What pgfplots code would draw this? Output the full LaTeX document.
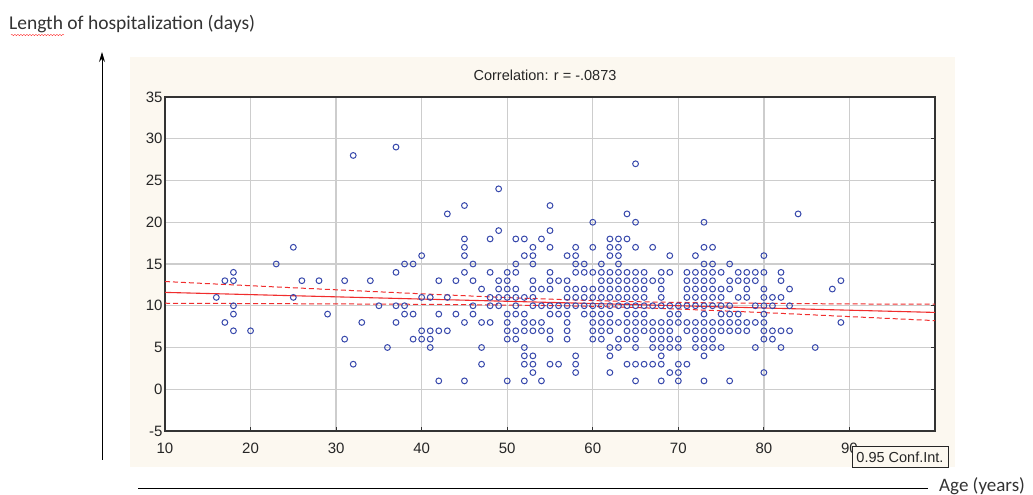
\documentclass[border=0pt]{standalone}
\usepackage{fontspec}
\setmainfont{Carlito}
\newfontfamily\arial{Liberation Sans}
\usepackage{pgfplots}
\pgfplotsset{compat=1.18}
\usetikzlibrary{arrows.meta,decorations.pathmorphing}
\definecolor{panelbg}{RGB}{252,248,240}
\definecolor{ptblue}{RGB}{55,72,172}
\definecolor{fitred}{RGB}{240,45,45}
\definecolor{gridgray}{RGB}{205,205,205}
\newcommand{\tickfont}{\arial\fontsize{15}{16}\selectfont}
\begin{document}
\begin{tikzpicture}[x=1pt,y=1pt]
\path[use as bounding box] (0,0) rectangle (1033,495);
\fill[white] (0,0) rectangle (1033,495);
\fill[panelbg] (130,28) rectangle (955,438);
\node[anchor=base west,inner sep=0pt,text=black!80,font=\fontsize{19.5}{21}\selectfont] at (9,465) {Length of hospitalization (days)};
\draw[red!80,decorate,decoration={snake,amplitude=0.7pt,segment length=3pt}] (11,460) -- (64,460);
\draw[line width=1pt,-{Stealth[length=10pt,width=6pt]}] (102,35) -- (102,443);
\draw[line width=0.8pt] (138,7) -- (928,7);
\node[anchor=base west,inner sep=0pt,text=black!80,font=\fontsize{19}{21}\selectfont] at (939,3) {Age (years)};
\node[font=\arial\fontsize{14.5}{15}\selectfont,text=black!85] at (545,420) {Correlation: r = -.0873};
\begin{axis}[
  at={(165pt,64pt)}, anchor=south west,
  scale only axis, width=770pt, height=334pt,
  xmin=10, xmax=100, ymin=-5, ymax=35,
  xtick={10,20,...,100}, ytick={-5,0,...,35},
  xticklabels={10,20,30,40,50,60,70,80,90,{}},
  yticklabels={-5,0,5,10,15,20,25,30,35},
  xtick pos=bottom, xticklabel pos=bottom,
  ytick pos=right, yticklabel pos=left,
  tick align=inside, major tick length=4pt,
  tick style={black!80,line width=0.8pt},
  ticklabel style={font=\tickfont,text=black!85},
  xticklabel style={yshift=-8pt},
  yticklabel style={xshift=1pt},
  /pgf/number format/assume math mode=true,
  grid=major, grid style={gridgray,line width=1.4pt},
  axis line style={black!80,line width=1.4pt},
  axis background/.style={fill=white},
  clip=true,
]
\addplot[only marks, mark=o, mark size=2.9pt, mark options={ptblue,line width=1pt}] coordinates {
(23,15) (38,15) (39,15) (46,15) (51,15) (53,15) (58,15) (59,15) (61,15) (63,15) (73,15) (74,15) (76,15)
(18,14) (37,14) (45,14) (48,14) (50,14) (51,14) (55,14) (58,14) (59,14) (60,14) (61,14) (62,14) (63,14) (64,14) (65,14) (66,14) (68,14) (69,14) (71,14) (72,14) (73,14) (74,14) (75,14) (77,14) (78,14) (79,14) (80,14) (82,14)
(17,13) (18,13) (26,13) (28,13) (31,13) (34,13) (42,13) (44,13) (46,13) (49,13) (50,13) (53,13) (55,13) (56,13) (57,13) (61,13) (62,13) (63,13) (64,13) (65,13) (66,13) (67,13) (68,13) (71,13) (72,13) (73,13) (74,13) (76,13) (77,13) (78,13) (79,13) (82,13) (89,13)
(47,12) (49,12) (50,12) (51,12) (53,12) (54,12) (55,12) (57,12) (58,12) (59,12) (60,12) (61,12) (62,12) (63,12) (64,12) (65,12) (66,12) (68,12) (71,12) (72,12) (73,12) (74,12) (75,12) (76,12) (78,12) (80,12) (83,12) (88,12)
(16,11) (25,11) (40,11) (41,11) (43,11) (48,11) (49,11) (50,11) (51,11) (52,11) (53,11) (57,11) (58,11) (59,11) (60,11) (61,11) (62,11) (63,11) (64,11) (65,11) (66,11) (68,11) (71,11) (72,11) (73,11) (74,11) (75,11) (77,11) (78,11) (80,11) (81,11) (82,11)
(18,10) (35,10) (37,10) (38,10) (46,10) (48,10) (49,10) (51,10) (53,10) (54,10) (55,10) (56,10) (57,10) (58,10) (59,10) (60,10) (61,10) (62,10) (63,10) (64,10) (65,10) (66,10) (67,10) (68,10) (69,10) (70,10) (71,10) (72,10) (73,10) (74,10) (75,10) (76,10) (79,10) (80,10) (81,10) (83,10)
(18,9) (29,9) (38,9) (39,9) (42,9) (44,9) (46,9) (50,9) (51,9) (52,9) (55,9) (56,9) (57,9) (59,9) (60,9) (61,9) (62,9) (64,9) (65,9) (66,9) (69,9) (70,9) (73,9) (75,9) (76,9) (77,9) (80,9)
(17,8) (33,8) (37,8) (45,8) (47,8) (48,8) (50,8) (52,8) (53,8) (54,8) (57,8) (60,8) (61,8) (62,8) (63,8) (64,8) (65,8) (66,8) (67,8) (68,8) (69,8) (70,8) (71,8) (72,8) (73,8) (74,8) (75,8) (76,8) (77,8) (78,8) (79,8) (80,8) (89,8)
(18,7) (20,7) (40,7) (41,7) (42,7) (43,7) (50,7) (51,7) (52,7) (53,7) (54,7) (55,7) (57,7) (60,7) (61,7) (62,7) (64,7) (65,7) (66,7) (67,7) (68,7) (69,7) (71,7) (72,7) (73,7) (74,7) (75,7) (76,7) (77,7) (78,7) (80,7) (81,7) (82,7) (83,7)
(31,6) (39,6) (40,6) (41,6) (50,6) (51,6) (55,6) (57,6) (60,6) (61,6) (63,6) (64,6) (65,6) (67,6) (68,6) (69,6) (70,6) (72,6) (73,6) (74,6) (80,6) (81,6)
(36,5) (41,5) (47,5) (52,5) (62,5) (63,5) (65,5) (67,5) (68,5) (69,5) (70,5) (72,5) (73,5) (74,5) (75,5) (79,5) (82,5) (86,5)
(52,4) (53,4) (58,4) (62,4) (68,4) (73,4)
(32,3) (47,3) (52,3) (53,3) (55,3) (56,3) (58,3) (64,3) (65,3) (66,3) (67,3) (68,3) (70,3) (71,3)
(53,2) (58,2) (62,2) (69,2) (70,2) (80,2)
(42,1) (45,1) (50,1) (52,1) (54,1) (65,1) (68,1) (70,1) (73,1) (76,1)
(40,16) (43,21) (45,22) (45,18) (45,17) (45,16) (48,18) (49,24) (49,19) (51,18) (52,18) (52,16) (53,17) (53,16) (54,18) (55,22) (55,19) (55,17) (57,16) (58,17) (58,16) (60,20) (60,17) (62,18) (62,17) (62,16) (63,18) (63,17) (63,16) (64,21) (64,18) (65,27) (65,20) (65,17) (67,17) (69,16) (72,16) (73,20) (73,17) (74,17) (80,16) (84,21) (25,17) (32,28) (37,29)
};
\addplot[fitred, line width=1.1pt] coordinates {(10,11.6) (100,9.2)};
\addplot[fitred, line width=1pt, dash pattern=on 5pt off 3pt, smooth] coordinates {
(10,12.90) (20,12.40) (30,11.91) (40,11.43) (50,10.98) (55,10.79) (60,10.62) (65,10.49) (70,10.40) (80,10.29) (90,10.22) (100,10.18)};
\addplot[fitred, line width=1pt, dash pattern=on 5pt off 3pt, smooth] coordinates {
(10,10.30) (20,10.26) (30,10.22) (40,10.17) (50,10.08) (55,10.02) (60,9.92) (65,9.78) (70,9.60) (80,9.18) (90,8.70) (100,8.22)};
\end{axis}
\node[draw=black!85,line width=0.9pt,fill=panelbg,inner xsep=1pt,inner ysep=0pt,minimum width=96pt,minimum height=21pt,font=\arial\fontsize{14.5}{15}\selectfont,text=black!85] at (900,38) {0.95 Conf.Int.};
\end{tikzpicture}
\end{document}
